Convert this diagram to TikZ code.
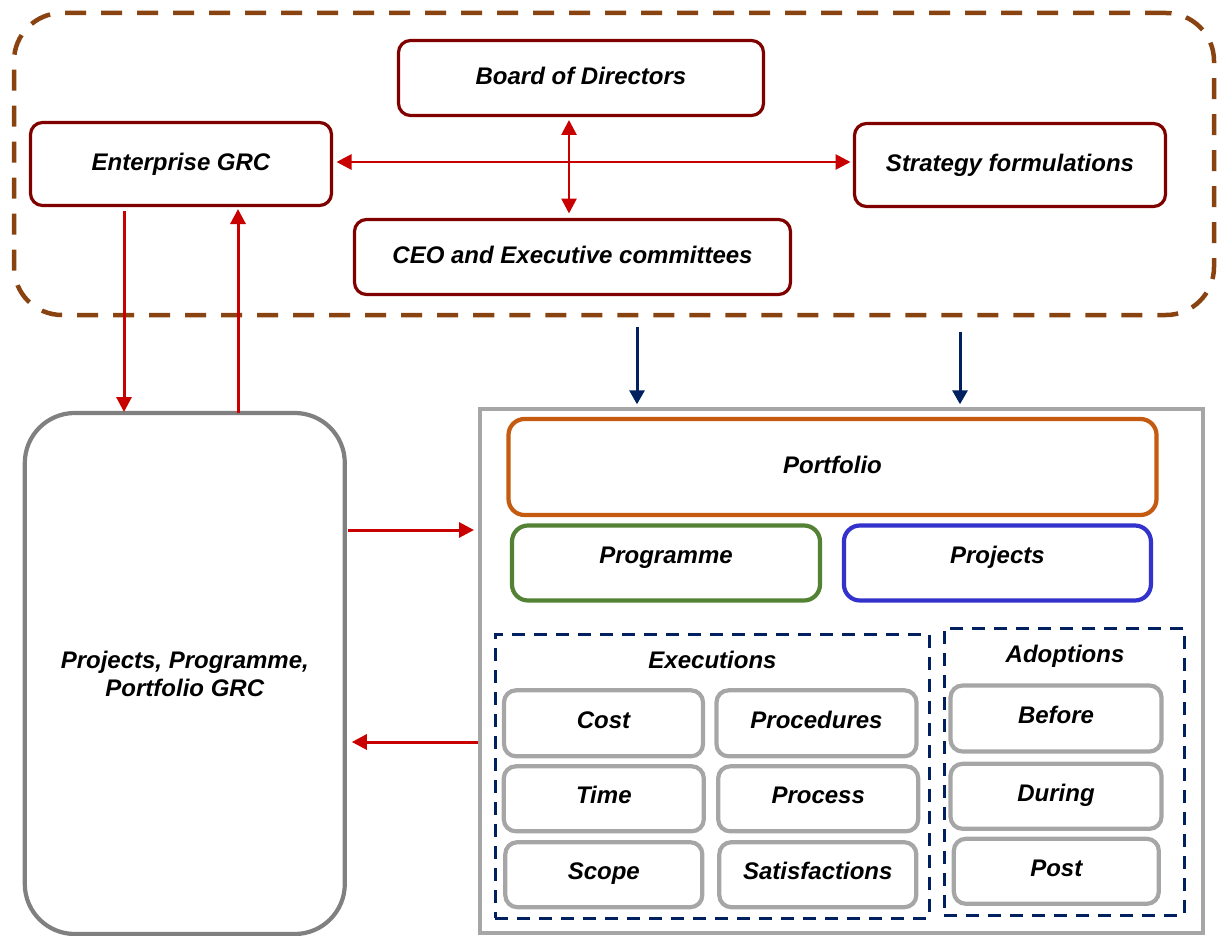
\documentclass[tikz,border=0pt]{standalone}
\usepackage{fontspec}
\setmainfont{Liberation Sans}
\usetikzlibrary{arrows.meta}

\definecolor{boxred}{RGB}{128,0,0}
\definecolor{arrred}{RGB}{200,0,0}
\definecolor{grpbrown}{RGB}{137,67,17}
\definecolor{navy}{RGB}{0,32,96}
\definecolor{midgray}{RGB}{128,128,128}
\definecolor{lightgray}{RGB}{166,166,166}
\definecolor{pforange}{RGB}{197,90,17}
\definecolor{pggreen}{RGB}{84,130,53}
\definecolor{pjblue}{RGB}{51,51,204}

\begin{document}
\begin{tikzpicture}[x=1pt,y=-1pt,
  every node/.style={font=\fontsize{24}{28}\selectfont\bfseries\itshape,
    inner sep=0pt, outer sep=0pt},
  govbox/.style={draw=boxred, line width=3.2pt, rounded corners=12pt,
    text height=17.2pt, text depth=5pt},
  tierbox/.style={draw=#1, line width=4.2pt, rounded corners=16pt,
    text height=17.2pt, text depth=16pt},
  itembox/.style={draw=lightgray, line width=4.2pt, rounded corners=12pt,
    text height=17.2pt, text depth=7pt},
  groupline/.style={draw=navy, line width=3.4pt, dash pattern=on 13pt off 9pt},
  title/.style={text height=17.2pt, text depth=0pt},
  redarrow/.style={draw=arrred, line width=3pt,
    -{Triangle[length=15pt,width=15pt]}},
  redboth/.style={draw=arrred, line width=2.8pt,
    {Triangle[length=15pt,width=15pt]}-{Triangle[length=15pt,width=15pt]}},
  bluearrow/.style={draw=navy, line width=3pt,
    -{Triangle[length=14pt,width=15pt]}}
]
\useasboundingbox (0,0) rectangle (1217,936);

% governance layer
\node[draw=grpbrown, line width=4.5pt, rounded corners=48pt,
      dash pattern=on 21pt off 15pt,
      minimum width=1200pt, minimum height=302pt] (gov) at (614,164) {};

\node[govbox, minimum width=365pt, minimum height=75pt] (board) at (581,78) {Board of Directors};
\node[govbox, minimum width=301pt, minimum height=83pt] (egrc) at (181,164) {Enterprise GRC};
\node[govbox, minimum width=311pt, minimum height=83pt] (strat) at (1010,165) {Strategy formulations};
\node[govbox, minimum width=436pt, minimum height=75pt] (ceo) at (572.5,257) {CEO and Executive committees};

% project-level GRC
\node[draw=midgray, line width=4.2pt, rounded corners=50pt,
      minimum width=320pt, minimum height=521pt, align=center] (ppp) at (184.8,673.5)
      {Projects, Programme,\\Portfolio GRC};

% delivery container
\node[draw=lightgray, line width=4.2pt, minimum width=723pt, minimum height=524pt] (pbox) at (841.5,671.3) {};

\node[tierbox=pforange, minimum width=648pt, minimum height=96pt, text depth=4pt] (portfolio) at (832.5,467) {Portfolio};
\node[tierbox=pggreen, minimum width=308pt, minimum height=75pt] (programme) at (666,563) {Programme};
\node[tierbox=pjblue, minimum width=307pt, minimum height=75pt] (projects) at (997.4,563) {Projects};

% executions group
\node[groupline, minimum width=434pt, minimum height=284pt] (exec) at (712.2,776.2) {};
\node[title] (exectitle) at (712.5,659.5) {Executions};
\node[itembox, minimum width=199pt, minimum height=66pt] (cost) at (603.5,723.3) {Cost};
\node[itembox, minimum width=200pt, minimum height=66pt] (proc) at (816.5,723.3) {Procedures};
\node[itembox, minimum width=200pt, minimum height=65pt] (time) at (603.8,798.8) {Time};
\node[itembox, minimum width=200pt, minimum height=65pt] (process) at (818.2,798.8) {Process};
\node[itembox, minimum width=197pt, minimum height=65pt] (scope) at (603.8,874.7) {Scope};
\node[itembox, minimum width=197pt, minimum height=65pt] (satis) at (817.8,874.7) {Satisfactions};

% adoptions group
\node[groupline, minimum width=240pt, minimum height=287pt] (adopt) at (1064.3,771.7) {};
\node[title] (adopttitle) at (1065,653.7) {Adoptions};
\node[itembox, minimum width=211pt, minimum height=66pt] (before) at (1056,718.5) {Before};
\node[itembox, minimum width=211pt, minimum height=65pt] (during) at (1056,796.3) {During};
\node[itembox, minimum width=205pt, minimum height=65pt] (post) at (1056.3,871.3) {Post};

% connectors inside the governance layer
\coordinate (hline) at ([yshift=2pt]egrc.east);
\draw[redboth, shorten <=5pt, shorten >=4pt] (hline) -- (hline -| strat.west);
\coordinate (vline) at ([xshift=-12pt]board.south);
\draw[redboth, shorten <=4.5pt, shorten >=6pt] (vline) -- (vline |- ceo.north);

% enterprise GRC <-> project GRC
\coordinate (down) at ([xshift=-57pt]egrc.south);
\draw[redarrow, shorten <=5.5pt, shorten >=1pt] (down) -- (down |- ppp.north);
\coordinate (up) at ([xshift=57pt]egrc.south);
\draw[redarrow, shorten >=3.5pt] (up |- ppp.north) -- (up);

% governance layer feeds delivery
\coordinate (feedA) at ([xshift=23pt]gov.south);
\draw[bluearrow, shorten <=12pt, shorten >=5pt] (feedA) -- (feedA |- pbox.north);
\coordinate (feedB) at ([xshift=346pt]gov.south);
\draw[bluearrow, shorten <=17pt, shorten >=5pt] (feedB) -- (feedB |- pbox.north);

% project GRC <-> delivery
\coordinate (out) at ([yshift=143.5pt]ppp.east);
\draw[redarrow, shorten <=3pt, shorten >=6pt] (out) -- (out -| pbox.west);
\coordinate (back) at ([yshift=-68.5pt]ppp.east);
\draw[redarrow, shorten <=2pt, shorten >=7pt] (back -| pbox.west) -- (back);

\end{tikzpicture}
\end{document}
